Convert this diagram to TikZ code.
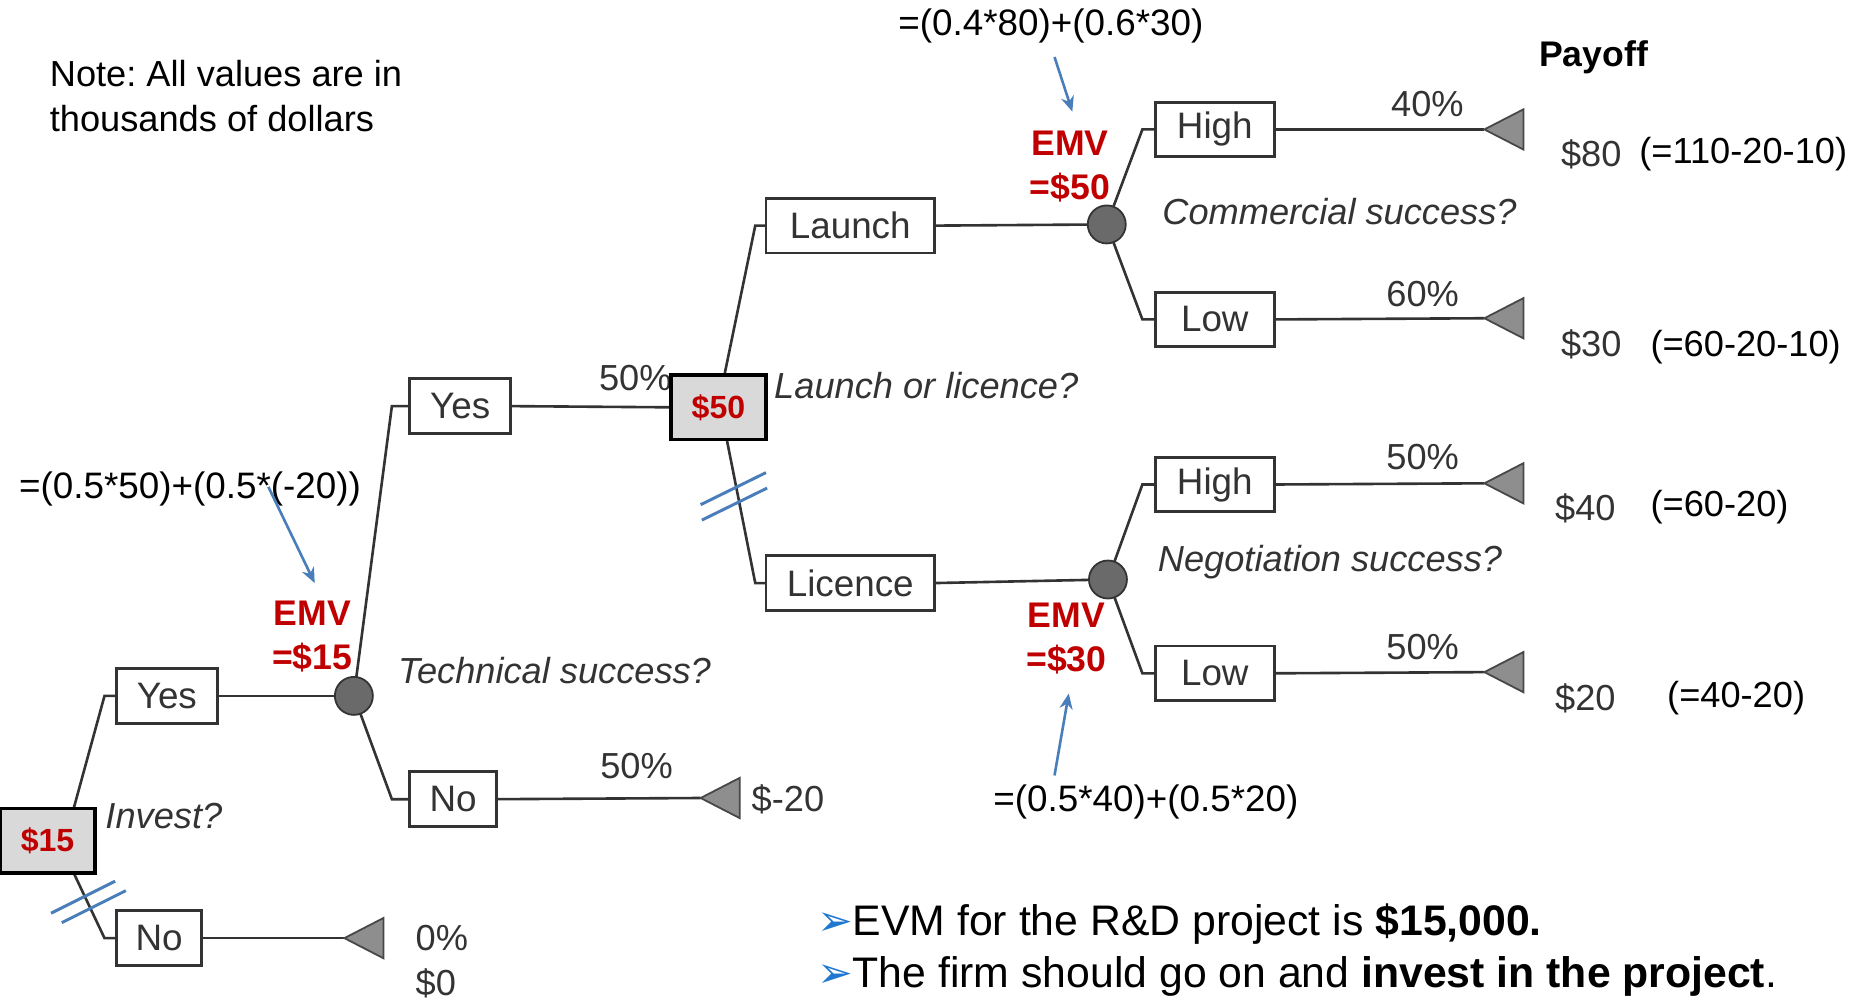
\documentclass[tikz,border=0pt]{standalone}
\usepackage{fontspec}
\setmainfont{Liberation Sans}
\newfontfamily\dejavu{DejaVu Sans}
\usetikzlibrary{calc,arrows.meta}
\definecolor{lgray}{HTML}{333333}
\definecolor{boxgray}{HTML}{D9D9D9}
\definecolor{emvred}{HTML}{C00000}
\definecolor{ablue}{HTML}{4A7EBB}
\definecolor{bullblue}{HTML}{1F77D0}
\definecolor{cfill}{HTML}{6A6A6A}
\definecolor{tfill}{HTML}{8E8E8E}
\pgfdeclarelayer{bg}
\pgfsetlayers{bg,main}
\frenchspacing
\begin{document}
\begin{tikzpicture}[x=1pt,y=-1pt,
  every node/.style={inner sep=0pt, outer sep=0pt},
  fs/.style={font=\fontsize{30.5}{36}\selectfont},
  txt/.style={fs, text=black},
  ftxt/.style={font=\fontsize{31}{36}\selectfont, text=black},
  gtxt/.style={fs, text=lgray},
  itxt/.style={font=\fontsize{30.5}{36}\selectfont\itshape, text=lgray},
  br/.style={draw=lgray, line width=2.2pt},
  opt/.style={draw=lgray, line width=2.4pt, fill=white, minimum height=46pt, text=lgray, font=\fontsize{31}{36}\selectfont},
  dec/.style={draw=black, line width=3pt, fill=boxgray, minimum width=80pt, minimum height=54pt, text=emvred, font=\fontsize{27}{32}\selectfont\bfseries},
  chance/.style={circle, fill=cfill, draw=lgray, line width=1.5pt, minimum size=32pt},
  tri/.style={fill=tfill, draw=lgray!90, line width=1.5pt, line join=miter},
  emv/.style={align=center, text=emvred, font=\fontsize{30}{37}\selectfont\bfseries},
  barrow/.style={draw=ablue, line width=2.2pt, -{Stealth[length=13pt,width=11pt]}},
  slash/.style={draw=ablue, line width=2.5pt},
  concl/.style={anchor=west, font=\fontsize{36}{44}\selectfont, text=black},
  bull/.style={}
]
\useasboundingbox (0,0) rectangle (1568,842);

% note
\node[txt, anchor=west] (note1) at (42,62) {Note: All values are in};
\node[txt, anchor=west] (note2) at (42,100) {thousands of dollars};

% first decision
\node[dec] (d15) at (40,708) {\$15};
\node[itxt] (q1) at (138,687) {Invest?};
\node[opt, minimum width=85pt] (yes1) at (140.5,586) {Yes};
\node[opt, minimum width=72pt] (no1) at (134,790) {No};
\coordinate (t0) at (290,790);
\node[gtxt, anchor=west] (p0) at (350,790) {0\%};
\node[gtxt, anchor=west] (v0) at (350,828) {\$0};

% technical success chance
\node[chance] (c1) at (298,586) {};
\node[emv] (e1) at (263,536) {EMV\\=\$15};
\node[ftxt] (f1) at (160,412) {=(0.5*50)+(0.5*(-20))};
\coordinate (a1s) at (226,410);
\coordinate (a1e) at (265,491);
\node[itxt] (q2) at (467,565) {Technical success?};
\node[opt, minimum width=85pt] (yes2) at (387.5,342) {Yes};
\node[opt, minimum width=73pt] (no2) at (381.5,673) {No};
\node[gtxt] (p1) at (535,318) {50\%};
\node[gtxt] (p2) at (536,645) {50\%};
\coordinate (t1) at (590,672);
\node[gtxt, anchor=west] (v1) at (633,673) {\$-20};

% launch or licence decision
\node[dec] (d50) at (605,343) {\$50};
\node[itxt] (q3) at (780,325) {Launch or licence?};
\node[opt, minimum width=142pt] (launch) at (716,190) {Launch};
\node[opt, minimum width=142pt] (licence) at (716,491) {Licence};

% commercial success chance
\node[chance] (c2) at (932,189) {};
\node[emv] (e2) at (901,140) {EMV\\=\$50};
\node[ftxt] (f2) at (885,22) {=(0.4*80)+(0.6*30)};
\coordinate (a2s) at (888,48);
\coordinate (a2e) at (903,94);
\node[itxt] (q4) at (1128,178) {Commercial success?};
\node[opt, minimum width=100pt] (hi1) at (1023,109) {High};
\node[opt, minimum width=100pt] (lo1) at (1023,269) {Low};
\node[gtxt] (p3) at (1202,88) {40\%};
\node[gtxt] (p4) at (1198,248) {60\%};
\coordinate (t2) at (1250,109);
\coordinate (t3) at (1250,268);

% negotiation success chance
\node[chance] (c3) at (933,488) {};
\node[emv] (e3) at (898,538) {EMV\\=\$30};
\node[ftxt] (f3) at (965,675) {=(0.5*40)+(0.5*20)};
\coordinate (a3s) at (888,653);
\coordinate (a3e) at (900,584);
\node[itxt] (q5) at (1120,473) {Negotiation success?};
\node[opt, minimum width=100pt] (hi2) at (1023,408) {High};
\node[opt, minimum width=100pt] (lo2) at (1023,567) {Low};
\node[gtxt] (p5) at (1198,385) {50\%};
\node[gtxt] (p6) at (1198,545) {50\%};
\coordinate (t4) at (1250,407);
\coordinate (t5) at (1250,566);

% payoffs
\node[font=\fontsize{30}{36}\selectfont\bfseries] (payoff) at (1342,48) {Payoff};
\node[gtxt] (v2) at (1340,130) {\$80};
\node[txt] (x2) at (1468,130) {(=110-20-10)};
\node[gtxt] (v3) at (1340,290) {\$30};
\node[txt] (x3) at (1470,292) {(=60-20-10)};
\node[gtxt] (v4) at (1335,428) {\$40};
\node[txt] (x4) at (1448,427) {(=60-20)};
\node[gtxt] (v5) at (1335,588) {\$20};
\node[txt] (x5) at (1462,588) {(=40-20)};

% conclusions
\node[concl] (b1) at (688,778) {{\dejavu\fontsize{36}{44}\selectfont\color{bullblue}➢}EVM for the R\&D project is \textbf{\$15,000.}};
\node[concl] (b2) at (688,822) {{\dejavu\fontsize{36}{44}\selectfont\color{bullblue}➢}The firm should go on and \textbf{invest in the project}.};

\begin{pgfonlayer}{bg}
% branches
\draw[br] ([xshift=22pt]d15.north) -- ([xshift=-10pt]yes1.west) -- (yes1.west);
\draw[br] ([xshift=22pt]d15.south) -- ([xshift=-10pt]no1.west) -- (no1.west);
\draw[br] (no1.east) -- (t0);
\draw[br] (yes1.east) -- (c1);
\draw[br] (c1) -- ([xshift=-15pt]yes2.west) -- (yes2.west);
\draw[br] (c1) -- ([xshift=-15pt]no2.west) -- (no2.west);
\draw[br] (yes2.east) -- (d50.west);
\draw[br] (no2.east) -- (t1);
\draw[br] ([xshift=5pt]d50.north) -- ([xshift=-9pt]launch.west) -- (launch.west);
\draw[br] ([xshift=7pt]d50.south) -- ([xshift=-9pt]licence.west) -- (licence.west);
\draw[br] (launch.east) -- (c2);
\draw[br] (licence.east) -- (c3);
\draw[br] (c2) -- ([xshift=-11pt]hi1.west) -- (hi1.west);
\draw[br] (c2) -- ([xshift=-11pt]lo1.west) -- (lo1.west);
\draw[br] (c3) -- ([xshift=-11pt]hi2.west) -- (hi2.west);
\draw[br] (c3) -- ([xshift=-11pt]lo2.west) -- (lo2.west);
\draw[br] (hi1.east) -- (t2);
\draw[br] (lo1.east) -- (t3);
\draw[br] (hi2.east) -- (t4);
\draw[br] (lo2.east) -- (t5);
\end{pgfonlayer}

% terminal triangles
\foreach \t in {t0,t1,t2,t3,t4,t5}
  \draw[tri] (\t) -- ++(33,-17) -- ++(0,34) -- cycle;

% blue annotations
\draw[barrow] (a1s) -- (a1e);
\draw[barrow] (a2s) -- (a2e);
\draw[barrow] (a3s) -- (a3e);
\draw[slash] (43,769) -- (97,742);
\draw[slash] (52,777) -- (106,750);
\draw[slash] (590,425) -- (645,398);
\draw[slash] (591,438) -- (646,411);
\end{tikzpicture}
\end{document}
